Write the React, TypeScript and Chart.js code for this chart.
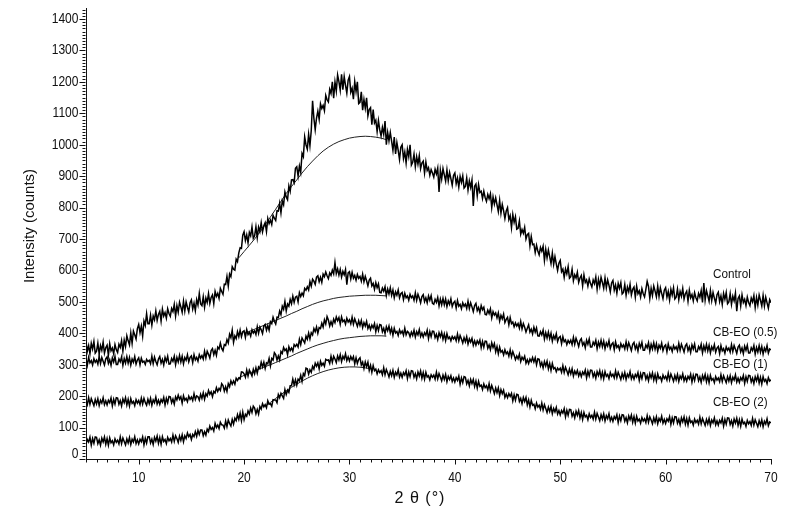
import { useEffect, useRef } from 'react';
import Chart from 'chart.js/auto';

// 2θ sampling (degrees), 0.125° steps
const twoTheta = [
  5, 5.125, 5.25, 5.375, 5.5, 5.625, 5.75, 5.875,
  6, 6.125, 6.25, 6.375, 6.5, 6.625, 6.75, 6.875,
  7, 7.125, 7.25, 7.375, 7.5, 7.625, 7.75, 7.875,
  8, 8.125, 8.25, 8.375, 8.5, 8.625, 8.75, 8.875,
  9, 9.125, 9.25, 9.375, 9.5, 9.625, 9.75, 9.875,
  10, 10.125, 10.25, 10.375, 10.5, 10.625, 10.75, 10.875,
  11, 11.125, 11.25, 11.375, 11.5, 11.625, 11.75, 11.875,
  12, 12.125, 12.25, 12.375, 12.5, 12.625, 12.75, 12.875,
  13, 13.125, 13.25, 13.375, 13.5, 13.625, 13.75, 13.875,
  14, 14.125, 14.25, 14.375, 14.5, 14.625, 14.75, 14.875,
  15, 15.125, 15.25, 15.375, 15.5, 15.625, 15.75, 15.875,
  16, 16.125, 16.25, 16.375, 16.5, 16.625, 16.75, 16.875,
  17, 17.125, 17.25, 17.375, 17.5, 17.625, 17.75, 17.875,
  18, 18.125, 18.25, 18.375, 18.5, 18.625, 18.75, 18.875,
  19, 19.125, 19.25, 19.375, 19.5, 19.625, 19.75, 19.875,
  20, 20.125, 20.25, 20.375, 20.5, 20.625, 20.75, 20.875,
  21, 21.125, 21.25, 21.375, 21.5, 21.625, 21.75, 21.875,
  22, 22.125, 22.25, 22.375, 22.5, 22.625, 22.75, 22.875,
  23, 23.125, 23.25, 23.375, 23.5, 23.625, 23.75, 23.875,
  24, 24.125, 24.25, 24.375, 24.5, 24.625, 24.75, 24.875,
  25, 25.125, 25.25, 25.375, 25.5, 25.625, 25.75, 25.875,
  26, 26.125, 26.25, 26.375, 26.5, 26.625, 26.75, 26.875,
  27, 27.125, 27.25, 27.375, 27.5, 27.625, 27.75, 27.875,
  28, 28.125, 28.25, 28.375, 28.5, 28.625, 28.75, 28.875,
  29, 29.125, 29.25, 29.375, 29.5, 29.625, 29.75, 29.875,
  30, 30.125, 30.25, 30.375, 30.5, 30.625, 30.75, 30.875,
  31, 31.125, 31.25, 31.375, 31.5, 31.625, 31.75, 31.875,
  32, 32.125, 32.25, 32.375, 32.5, 32.625, 32.75, 32.875,
  33, 33.125, 33.25, 33.375, 33.5, 33.625, 33.75, 33.875,
  34, 34.125, 34.25, 34.375, 34.5, 34.625, 34.75, 34.875,
  35, 35.125, 35.25, 35.375, 35.5, 35.625, 35.75, 35.875,
  36, 36.125, 36.25, 36.375, 36.5, 36.625, 36.75, 36.875,
  37, 37.125, 37.25, 37.375, 37.5, 37.625, 37.75, 37.875,
  38, 38.125, 38.25, 38.375, 38.5, 38.625, 38.75, 38.875,
  39, 39.125, 39.25, 39.375, 39.5, 39.625, 39.75, 39.875,
  40, 40.125, 40.25, 40.375, 40.5, 40.625, 40.75, 40.875,
  41, 41.125, 41.25, 41.375, 41.5, 41.625, 41.75, 41.875,
  42, 42.125, 42.25, 42.375, 42.5, 42.625, 42.75, 42.875,
  43, 43.125, 43.25, 43.375, 43.5, 43.625, 43.75, 43.875,
  44, 44.125, 44.25, 44.375, 44.5, 44.625, 44.75, 44.875,
  45, 45.125, 45.25, 45.375, 45.5, 45.625, 45.75, 45.875,
  46, 46.125, 46.25, 46.375, 46.5, 46.625, 46.75, 46.875,
  47, 47.125, 47.25, 47.375, 47.5, 47.625, 47.75, 47.875,
  48, 48.125, 48.25, 48.375, 48.5, 48.625, 48.75, 48.875,
  49, 49.125, 49.25, 49.375, 49.5, 49.625, 49.75, 49.875,
  50, 50.125, 50.25, 50.375, 50.5, 50.625, 50.75, 50.875,
  51, 51.125, 51.25, 51.375, 51.5, 51.625, 51.75, 51.875,
  52, 52.125, 52.25, 52.375, 52.5, 52.625, 52.75, 52.875,
  53, 53.125, 53.25, 53.375, 53.5, 53.625, 53.75, 53.875,
  54, 54.125, 54.25, 54.375, 54.5, 54.625, 54.75, 54.875,
  55, 55.125, 55.25, 55.375, 55.5, 55.625, 55.75, 55.875,
  56, 56.125, 56.25, 56.375, 56.5, 56.625, 56.75, 56.875,
  57, 57.125, 57.25, 57.375, 57.5, 57.625, 57.75, 57.875,
  58, 58.125, 58.25, 58.375, 58.5, 58.625, 58.75, 58.875,
  59, 59.125, 59.25, 59.375, 59.5, 59.625, 59.75, 59.875,
  60, 60.125, 60.25, 60.375, 60.5, 60.625, 60.75, 60.875,
  61, 61.125, 61.25, 61.375, 61.5, 61.625, 61.75, 61.875,
  62, 62.125, 62.25, 62.375, 62.5, 62.625, 62.75, 62.875,
  63, 63.125, 63.25, 63.375, 63.5, 63.625, 63.75, 63.875,
  64, 64.125, 64.25, 64.375, 64.5, 64.625, 64.75, 64.875,
  65, 65.125, 65.25, 65.375, 65.5, 65.625, 65.75, 65.875,
  66, 66.125, 66.25, 66.375, 66.5, 66.625, 66.75, 66.875,
  67, 67.125, 67.25, 67.375, 67.5, 67.625, 67.75, 67.875,
  68, 68.125, 68.25, 68.375, 68.5, 68.625, 68.75, 68.875,
  69, 69.125, 69.25, 69.375, 69.5, 69.625, 69.75, 69.875,
  70,
];

const control = [
  373, 343, 361, 335, 368, 350, 374, 337,
  343, 369, 334, 361, 346, 372, 337, 354,
  362, 330, 367, 344, 353, 335, 364, 348,
  339, 365, 355, 377, 343, 378, 358, 392,
  376, 363, 401, 368, 407, 395, 382, 415,
  428, 402, 423, 391, 439, 425, 462, 430,
  430, 458, 426, 455, 443, 471, 441, 460,
  470, 439, 477, 455, 466, 448, 478, 463,
  454, 479, 469, 492, 455, 488, 467, 499,
  484, 467, 502, 471, 500, 483, 468, 497,
  506, 477, 496, 472, 507, 490, 527, 493,
  488, 516, 483, 512, 498, 526, 495, 514,
  522, 494, 533, 517, 527, 511, 543, 533,
  524, 556, 555, 581, 550, 589, 580, 612,
  604, 601, 636, 628, 656, 672, 670, 712,
  723, 695, 713, 688, 721, 710, 738, 702,
  710, 739, 704, 738, 724, 752, 723, 742,
  752, 724, 765, 749, 760, 746, 775, 766,
  759, 790, 789, 814, 783, 821, 809, 850,
  834, 825, 869, 852, 888, 889, 879, 925,
  930, 900, 932, 912, 972, 962, 1025, 1000,
  986, 1033, 997, 1045, 1140, 1084, 1048, 1085,
  1107, 1081, 1130, 1115, 1125, 1108, 1157, 1143,
  1136, 1176, 1163, 1200, 1148, 1200, 1171, 1222,
  1201, 1173, 1224, 1175, 1217, 1189, 1164, 1205,
  1217, 1167, 1180, 1145, 1201, 1169, 1200, 1131,
  1135, 1168, 1110, 1144, 1116, 1149, 1092, 1112,
  1118, 1064, 1112, 1069, 1078, 1042, 1077, 1047,
  1028, 1055, 1033, 1075, 1000, 1039, 1012, 1039,
  1011, 982, 1024, 971, 1007, 982, 953, 992,
  1000, 956, 977, 942, 985, 962, 1000, 935,
  944, 970, 930, 962, 938, 965, 924, 942,
  948, 910, 945, 918, 927, 903, 921, 910,
  897, 922, 907, 926, 850, 919, 891, 924,
  904, 884, 920, 885, 912, 892, 871, 902,
  910, 876, 894, 865, 899, 880, 901, 862,
  867, 894, 856, 885, 864, 888, 805, 868,
  875, 837, 873, 848, 852, 829, 852, 832,
  820, 842, 828, 844, 800, 834, 811, 831,
  809, 787, 823, 782, 810, 790, 765, 789,
  800, 762, 774, 736, 778, 753, 771, 731,
  734, 758, 715, 730, 718, 737, 700, 714,
  718, 678, 708, 682, 684, 657, 680, 662,
  650, 673, 661, 677, 632, 667, 640, 665,
  644, 622, 655, 619, 644, 621, 600, 623,
  632, 596, 604, 578, 605, 589, 612, 575,
  580, 604, 567, 586, 576, 594, 562, 576,
  584, 551, 586, 562, 570, 550, 573, 558,
  547, 570, 558, 579, 540, 572, 549, 578,
  562, 543, 576, 545, 570, 553, 532, 560,
  568, 537, 554, 528, 559, 543, 561, 525,
  530, 555, 521, 547, 532, 556, 522, 540,
  547, 515, 550, 526, 535, 515, 542, 526,
  516, 540, 565, 549, 511, 543, 520, 550,
  534, 516, 550, 517, 545, 527, 510, 537,
  545, 515, 533, 506, 540, 522, 545, 509,
  515, 541, 507, 533, 518, 543, 509, 526,
  534, 502, 537, 513, 523, 503, 529, 513,
  503, 527, 515, 536, 498, 560, 506, 536,
  520, 502, 536, 504, 530, 512, 496, 523,
  531, 501, 519, 492, 527, 508, 530, 494,
  500, 526, 492, 518, 503, 528, 470, 511,
  519, 487, 522, 498, 508, 488, 515, 498,
  488, 512, 500, 520, 482, 514, 490, 522,
  505, 487, 520, 487, 515, 497, 480, 507,
  497,
];

const cbEo05 = [
  320, 298, 323, 306, 313, 299, 319, 308,
  315, 302, 326, 304, 323, 311, 299, 319,
  325, 304, 316, 298, 322, 309, 326, 301,
  301, 318, 309, 325, 298, 320, 305, 326,
  305, 323, 299, 318, 308, 326, 302, 315,
  322, 300, 321, 308, 311, 301, 317, 310,
  314, 303, 327, 303, 324, 310, 300, 318,
  326, 305, 317, 299, 323, 310, 327, 302,
  303, 320, 311, 327, 300, 323, 309, 330,
  309, 327, 303, 323, 314, 332, 309, 323,
  328, 307, 332, 315, 323, 311, 332, 321,
  329, 318, 343, 322, 343, 333, 321, 345,
  351, 332, 346, 330, 356, 350, 369, 352,
  344, 364, 361, 380, 369, 397, 386, 410,
  371, 392, 383, 405, 389, 410, 389, 405,
  408, 387, 412, 396, 403, 391, 411, 401,
  408, 396, 421, 400, 420, 411, 399, 423,
  428, 410, 425, 410, 437, 431, 451, 438,
  429, 451, 450, 471, 459, 486, 476, 501,
  471, 493, 486, 508, 494, 518, 498, 515,
  518, 500, 529, 517, 528, 519, 543, 537,
  548, 538, 565, 550, 572, 566, 556, 579,
  583, 564, 578, 562, 588, 580, 595, 583,
  574, 592, 584, 601, 589, 625, 590, 605,
  585, 603, 579, 597, 586, 603, 555, 592,
  596, 573, 594, 575, 584, 569, 587, 575,
  581, 566, 588, 564, 581, 567, 551, 569,
  575, 551, 559, 540, 561, 545, 557, 530,
  529, 544, 534, 548, 520, 541, 525, 545,
  521, 538, 513, 532, 521, 538, 513, 526,
  530, 507, 527, 513, 519, 505, 524, 513,
  519, 505, 529, 505, 524, 512, 497, 517,
  523, 501, 513, 497, 519, 505, 520, 495,
  492, 508, 498, 514, 487, 509, 491, 511,
  491, 509, 485, 503, 492, 510, 485, 497,
  502, 480, 504, 486, 492, 478, 497, 486,
  493, 479, 502, 479, 497, 484, 469, 488,
  495, 472, 482, 466, 488, 475, 483, 460,
  459, 474, 463, 478, 449, 469, 458, 465,
  449, 465, 439, 457, 446, 461, 434, 444,
  451, 427, 450, 431, 436, 421, 433, 423,
  431, 416, 438, 414, 431, 419, 404, 416,
  427, 404, 413, 398, 419, 404, 417, 392,
  391, 405, 395, 410, 382, 402, 385, 404,
  383, 400, 375, 393, 382, 399, 374, 386,
  390, 367, 389, 373, 379, 364, 377, 369,
  378, 364, 387, 365, 384, 372, 358, 377,
  383, 362, 371, 354, 378, 365, 382, 356,
  356, 372, 363, 378, 351, 372, 358, 378,
  357, 375, 351, 369, 359, 377, 352, 365,
  370, 348, 373, 355, 361, 348, 367, 356,
  363, 350, 373, 351, 370, 358, 345, 365,
  371, 350, 362, 344, 368, 355, 371, 346,
  346, 363, 354, 370, 343, 365, 350, 370,
  349, 367, 343, 362, 352, 369, 345, 358,
  363, 341, 366, 349, 356, 342, 361, 350,
  357, 344, 368, 346, 365, 353, 340, 360,
  366, 345, 357, 339, 363, 350, 366, 341,
  341, 358, 349, 365, 338, 360, 345, 365,
  344, 362, 338, 357, 347, 364, 340, 353,
  358, 336, 361, 344, 351, 337, 357, 346,
  353, 340, 364, 342, 361, 349, 336, 356,
  362, 341, 353, 335, 359, 346, 362, 337,
  337, 354, 345, 361, 334, 355, 340, 361,
  340, 358, 334, 353, 343, 361, 337, 350,
  347,
];

const cbEo1 = [
  185, 173, 195, 174, 192, 181, 170, 189,
  175, 192, 170, 187, 178, 195, 173, 185,
  172, 187, 179, 194, 169, 190, 175, 195,
  194, 174, 186, 169, 191, 179, 195, 172,
  190, 169, 192, 177, 183, 170, 189, 178,
  186, 173, 194, 175, 193, 180, 171, 190,
  176, 193, 171, 188, 179, 197, 175, 187,
  174, 189, 181, 196, 172, 193, 179, 199,
  198, 179, 191, 175, 198, 188, 203, 190,
  198, 178, 201, 187, 193, 182, 200, 190,
  197, 186, 208, 189, 201, 198, 187, 206,
  193, 211, 190, 208, 200, 218, 206, 214,
  198, 215, 210, 227, 215, 225, 218, 240,
  234, 216, 230, 215, 240, 230, 249, 238,
  248, 238, 257, 250, 258, 255, 277, 276,
  271, 260, 283, 264, 283, 274, 264, 285,
  271, 290, 273, 293, 288, 308, 293, 308,
  288, 306, 303, 320, 296, 320, 315, 338,
  332, 315, 328, 315, 342, 336, 355, 345,
  350, 332, 357, 345, 353, 343, 364, 358,
  365, 356, 381, 364, 385, 377, 369, 391,
  381, 401, 382, 402, 395, 415, 405, 420,
  400, 418, 415, 432, 420, 443, 430, 453,
  442, 423, 437, 425, 445, 434, 452, 440,
  450, 429, 452, 437, 442, 429, 448, 436,
  443, 430, 451, 429, 446, 434, 422, 440,
  425, 441, 418, 434, 423, 438, 415, 426,
  412, 426, 417, 431, 405, 425, 409, 428,
  426, 405, 416, 399, 421, 408, 423, 401,
  416, 394, 416, 401, 406, 393, 411, 400,
  407, 394, 416, 395, 406, 402, 389, 404,
  393, 410, 388, 405, 395, 412, 390, 401,
  388, 402, 394, 410, 383, 405, 389, 407,
  406, 386, 397, 380, 402, 389, 403, 381,
  398, 377, 399, 383, 388, 376, 390, 382,
  389, 376, 398, 376, 393, 382, 369, 386,
  373, 389, 366, 382, 372, 384, 362, 376,
  362, 376, 367, 379, 354, 374, 356, 375,
  374, 352, 363, 348, 370, 355, 367, 341,
  358, 335, 356, 340, 345, 331, 348, 335,
  341, 327, 347, 325, 342, 330, 316, 328,
  319, 334, 310, 324, 316, 327, 305, 316,
  304, 318, 310, 323, 309, 322, 300, 319,
  317, 296, 307, 290, 310, 296, 311, 287,
  304, 282, 304, 287, 291, 278, 289, 283,
  289, 276, 297, 275, 292, 281, 268, 286,
  271, 287, 264, 280, 270, 282, 264, 276,
  262, 277, 269, 283, 258, 279, 264, 283,
  282, 262, 274, 257, 278, 266, 281, 258,
  276, 255, 278, 263, 269, 256, 275, 263,
  270, 258, 280, 259, 276, 265, 253, 272,
  258, 275, 253, 270, 261, 278, 255, 267,
  254, 269, 261, 275, 250, 271, 256, 275,
  274, 254, 266, 249, 271, 258, 274, 251,
  269, 248, 271, 256, 261, 248, 267, 256,
  263, 251, 273, 252, 270, 259, 247, 266,
  252, 269, 247, 264, 255, 271, 249, 261,
  248, 263, 255, 270, 245, 266, 250, 270,
  269, 249, 261, 244, 266, 253, 269, 246,
  264, 243, 266, 251, 256, 243, 262, 251,
  258, 246, 268, 247, 265, 254, 243, 262,
  248, 265, 243, 260, 251, 268, 245, 257,
  244, 259, 251, 266, 241, 262, 247, 266,
  265, 245, 257, 240, 262, 249, 265, 242,
  260, 239, 262, 247, 253, 240, 259, 248,
  252,
];

const cbEo2 = [
  47, 62, 54, 69, 44, 65, 50, 70,
  69, 49, 61, 44, 66, 54, 70, 47,
  65, 44, 67, 52, 58, 45, 64, 53,
  60, 48, 70, 49, 67, 56, 45, 64,
  51, 68, 46, 63, 54, 71, 49, 61,
  48, 63, 55, 70, 45, 66, 51, 71,
  71, 51, 63, 46, 69, 57, 73, 50,
  68, 47, 71, 56, 62, 49, 69, 58,
  65, 54, 76, 56, 74, 65, 53, 73,
  59, 77, 55, 74, 65, 83, 71, 78,
  62, 78, 71, 87, 72, 91, 78, 92,
  92, 74, 87, 76, 95, 87, 105, 94,
  100, 89, 113, 100, 108, 97, 117, 109,
  108, 98, 121, 103, 124, 113, 105, 126,
  111, 130, 122, 141, 126, 146, 122, 149,
  125, 142, 136, 153, 143, 162, 148, 168,
  162, 144, 158, 143, 167, 159, 176, 166,
  173, 163, 185, 174, 176, 168, 189, 188,
  188, 179, 205, 195, 209, 201, 193, 221,
  205, 219, 212, 233, 233, 254, 236, 252,
  235, 254, 249, 266, 247, 272, 265, 289,
  287, 270, 284, 276, 295, 286, 305, 295,
  306, 287, 311, 298, 305, 295, 317, 314,
  315, 304, 327, 308, 327, 318, 307, 328,
  315, 332, 310, 327, 318, 335, 313, 325,
  312, 326, 316, 326, 303, 322, 304, 317,
  322, 299, 308, 288, 309, 294, 308, 282,
  298, 276, 297, 281, 286, 271, 284, 275,
  281, 268, 290, 268, 285, 274, 261, 279,
  265, 282, 260, 276, 267, 284, 261, 273,
  260, 275, 267, 281, 256, 277, 262, 281,
  280, 260, 272, 255, 277, 264, 280, 257,
  275, 254, 276, 261, 265, 252, 268, 260,
  267, 254, 276, 255, 272, 261, 249, 267,
  253, 269, 246, 263, 253, 265, 247, 258,
  245, 259, 250, 264, 238, 258, 243, 262,
  260, 239, 250, 233, 253, 240, 253, 231,
  248, 226, 247, 231, 235, 221, 239, 227,
  233, 220, 240, 217, 234, 222, 208, 226,
  211, 226, 202, 221, 208, 219, 196, 207,
  195, 208, 199, 209, 185, 204, 187, 206,
  204, 183, 193, 176, 196, 183, 196, 172,
  188, 166, 187, 171, 174, 160, 178, 165,
  171, 158, 178, 156, 173, 161, 148, 165,
  151, 167, 144, 161, 150, 164, 143, 154,
  140, 154, 146, 160, 134, 155, 139, 158,
  157, 136, 147, 131, 152, 139, 154, 131,
  148, 126, 148, 134, 139, 125, 144, 132,
  139, 127, 149, 127, 145, 134, 122, 141,
  127, 144, 121, 138, 128, 144, 122, 133,
  120, 135, 127, 141, 116, 137, 122, 141,
  140, 120, 132, 115, 137, 125, 140, 117,
  135, 114, 136, 121, 127, 114, 132, 121,
  128, 116, 138, 117, 134, 124, 112, 131,
  117, 134, 112, 129, 120, 136, 114, 126,
  113, 128, 120, 135, 110, 131, 115, 135,
  134, 114, 126, 109, 131, 118, 134, 111,
  129, 108, 131, 116, 121, 108, 127, 116,
  123, 111, 133, 112, 129, 118, 107, 126,
  112, 129, 107, 124, 115, 131, 109, 121,
  108, 123, 115, 130, 105, 126, 111, 131,
  130, 110, 122, 105, 127, 114, 130, 107,
  125, 104, 127, 112, 117, 104, 123, 112,
  119, 107, 129, 108, 125, 114, 103, 122,
  108, 125, 103, 120, 111, 128, 106, 118,
  115,
];

// Fitted amorphous halo curves
const fitControlX = [19.5, 20, 20.5, 21, 21.5, 22, 22.5, 23, 23.5, 24, 24.5, 25, 25.5, 26, 26.5, 27, 27.5, 28, 28.5, 29, 29.5, 30, 30.5, 31, 31.5, 32, 32.5, 33, 33.5];
const fitControlY = [640, 660, 680, 700, 722, 745, 770, 795, 820, 845, 867, 888, 910, 930, 948, 965, 980, 992, 1002, 1010, 1016, 1021, 1024, 1026, 1027, 1026, 1024, 1021, 1016];
const fit05X = [20, 20.5, 21, 21.5, 22, 22.5, 23, 23.5, 24, 24.5, 25, 25.5, 26, 26.5, 27, 27.5, 28, 28.5, 29, 29.5, 30, 30.5, 31, 31.5, 32, 32.5, 33, 33.5];
const fit05Y = [400, 406, 413, 420, 427, 434, 441, 448, 455, 463, 470, 478, 485, 492, 498, 503, 507, 511, 514, 516, 518, 519, 520, 521, 521, 521, 520, 519];
const fit1X = [19.5, 20, 20.5, 21, 21.5, 22, 22.5, 23, 23.5, 24, 24.5, 25, 25.5, 26, 26.5, 27, 27.5, 28, 28.5, 29, 29.5, 30, 30.5, 31, 31.5, 32, 32.5, 33, 33.5];
const fit1Y = [258, 266, 273, 280, 287, 294, 300, 307, 314, 321, 328, 336, 343, 350, 357, 363, 368, 373, 377, 381, 384, 386, 388, 390, 391, 392, 392, 392, 391];
const fit2X = [22, 22.5, 23, 23.5, 24, 24.5, 25, 25.5, 26, 26.5, 27, 27.5, 28, 28.5, 29, 29.5, 30, 30.5, 31, 31.5, 32];
const fit2Y = [168, 180, 193, 205, 217, 228, 238, 248, 257, 265, 272, 278, 283, 287, 290, 292, 293, 293, 292, 290, 287];

const seriesNames = ['Control', 'CB-EO (0.5)', 'CB-EO (1)', 'CB-EO (2)'];
const xTickLabels = [10, 20, 30, 40, 50, 60, 70];
const yTickLabels = [0, 100, 200, 300, 400, 500, 600, 700, 800, 900, 1000, 1100, 1200, 1300, 1400];
const xTitle = '2 \u03b8 (\u00b0)';
const yTitle = 'Intensity (counts)';

const FONT = '"Liberation Sans", Arial, sans-serif';

function pts(xs: number[], ys: number[]) {
  return xs.map((x, i) => ({ x, y: ys[i] }));
}

function squeezedText(ctx: any, text: string, x: number, y: number, sx: number) {
  ctx.save();
  ctx.translate(x, y);
  ctx.scale(sx, 1);
  ctx.fillText(text, 0, 0);
  ctx.restore();
}

const overlay = {
  id: 'overlay',
  afterDraw(chart: any) {
    const ctx = chart.ctx;
    const xs = chart.scales.x;
    const ys = chart.scales.y;
    ctx.save();
    ctx.strokeStyle = '#111';
    ctx.lineWidth = 1;
    const ax = Math.round(xs.left) - 0.5;
    const ay = Math.round(ys.bottom) + 0.5;
    ctx.beginPath();
    for (let v = 0; v <= 1430; v += 10) {
      const py = Math.round(ys.getPixelForValue(v)) + 0.5;
      const len = v % 100 === 0 ? 6 : 3;
      ctx.moveTo(ax - len, py);
      ctx.lineTo(ax, py);
    }
    for (let v = 5; v <= 70; v += 1) {
      const px = Math.round(xs.getPixelForValue(v)) + 0.5;
      const len = v % 10 === 0 ? 5 : 3;
      ctx.moveTo(px, ay);
      ctx.lineTo(px, ay + len);
    }
    ctx.stroke();

    ctx.fillStyle = '#111';
    ctx.font = `14px ${FONT}`;
    ctx.textBaseline = 'middle';
    ctx.textAlign = 'right';
    yTickLabels.forEach((v) => {
      const py = ys.getPixelForValue(v) - (v === 0 ? 5 : 0);
      squeezedText(ctx, String(v), ax - 7, py, 0.86);
    });
    ctx.textAlign = 'center';
    xTickLabels.forEach((v) => {
      squeezedText(ctx, String(v), xs.getPixelForValue(v), ay + 19, 0.86);
    });

    const labelPos = [587, 402, 300, 179];
    ctx.font = `13px ${FONT}`;
    ctx.textAlign = 'left';
    seriesNames.forEach((n, i) => {
      squeezedText(ctx, n, xs.getPixelForValue(64.5), ys.getPixelForValue(labelPos[i]), 0.9);
    });

    ctx.font = `17px ${FONT}`;
    ctx.textAlign = 'center';
    (ctx as any).letterSpacing = '1px';
    squeezedText(ctx, xTitle, 420, 498, 0.95);
    (ctx as any).letterSpacing = '0px';
    ctx.font = `15px ${FONT}`;
    ctx.translate(30, 226);
    ctx.rotate(-Math.PI / 2);
    ctx.fillText(yTitle, 0, 0);
    ctx.restore();
  },
};

export default function App() {
  const ref = useRef<HTMLCanvasElement>(null);
  useEffect(() => {
    document.body.style.margin = '0';
    const line = (data: any, w: number, color: string) => ({
      data,
      borderColor: color,
      borderWidth: w,
      pointRadius: 0,
      tension: 0,
      fill: false,
    });
    const chart = new Chart(ref.current!, {
      type: 'line',
      data: {
        datasets: [
          line(pts(twoTheta, control), 1.5, '#000'),
          line(pts(twoTheta, cbEo05), 1.5, '#000'),
          line(pts(twoTheta, cbEo1), 1.5, '#000'),
          line(pts(twoTheta, cbEo2), 1.5, '#000'),
          line(pts(fitControlX, fitControlY), 1, '#222'),
          line(pts(fit05X, fit05Y), 1, '#222'),
          line(pts(fit1X, fit1Y), 1, '#222'),
          line(pts(fit2X, fit2Y), 1, '#222'),
        ] as any,
      },
      options: {
        animation: false,
        responsive: true,
        maintainAspectRatio: false,
        layout: { padding: { top: 8, right: 24, left: 0, bottom: 0 } },
        plugins: { legend: { display: false }, tooltip: { enabled: false } },
        scales: {
          x: {
            type: 'linear',
            min: 5,
            max: 70,
            grid: { display: false, drawTicks: false },
            border: { display: true, color: '#111', width: 1 },
            ticks: { display: false, stepSize: 10, includeBounds: false },
            afterFit: (s: any) => {
              s.height = 61;
            },
          },
          y: {
            type: 'linear',
            min: 0,
            max: 1435,
            grid: { display: false, drawTicks: false },
            border: { display: true, color: '#111', width: 1 },
            ticks: { display: false, stepSize: 100, includeBounds: false },
            afterFit: (s: any) => {
              s.width = 86;
            },
          },
        },
      } as any,
      plugins: [overlay],
    });
    return () => chart.destroy();
  }, []);
  return (
    <div style={{ position: 'fixed', left: 0, top: 0, width: 795, height: 520, background: '#fff' }}>
      <canvas ref={ref} />
    </div>
  );
}
